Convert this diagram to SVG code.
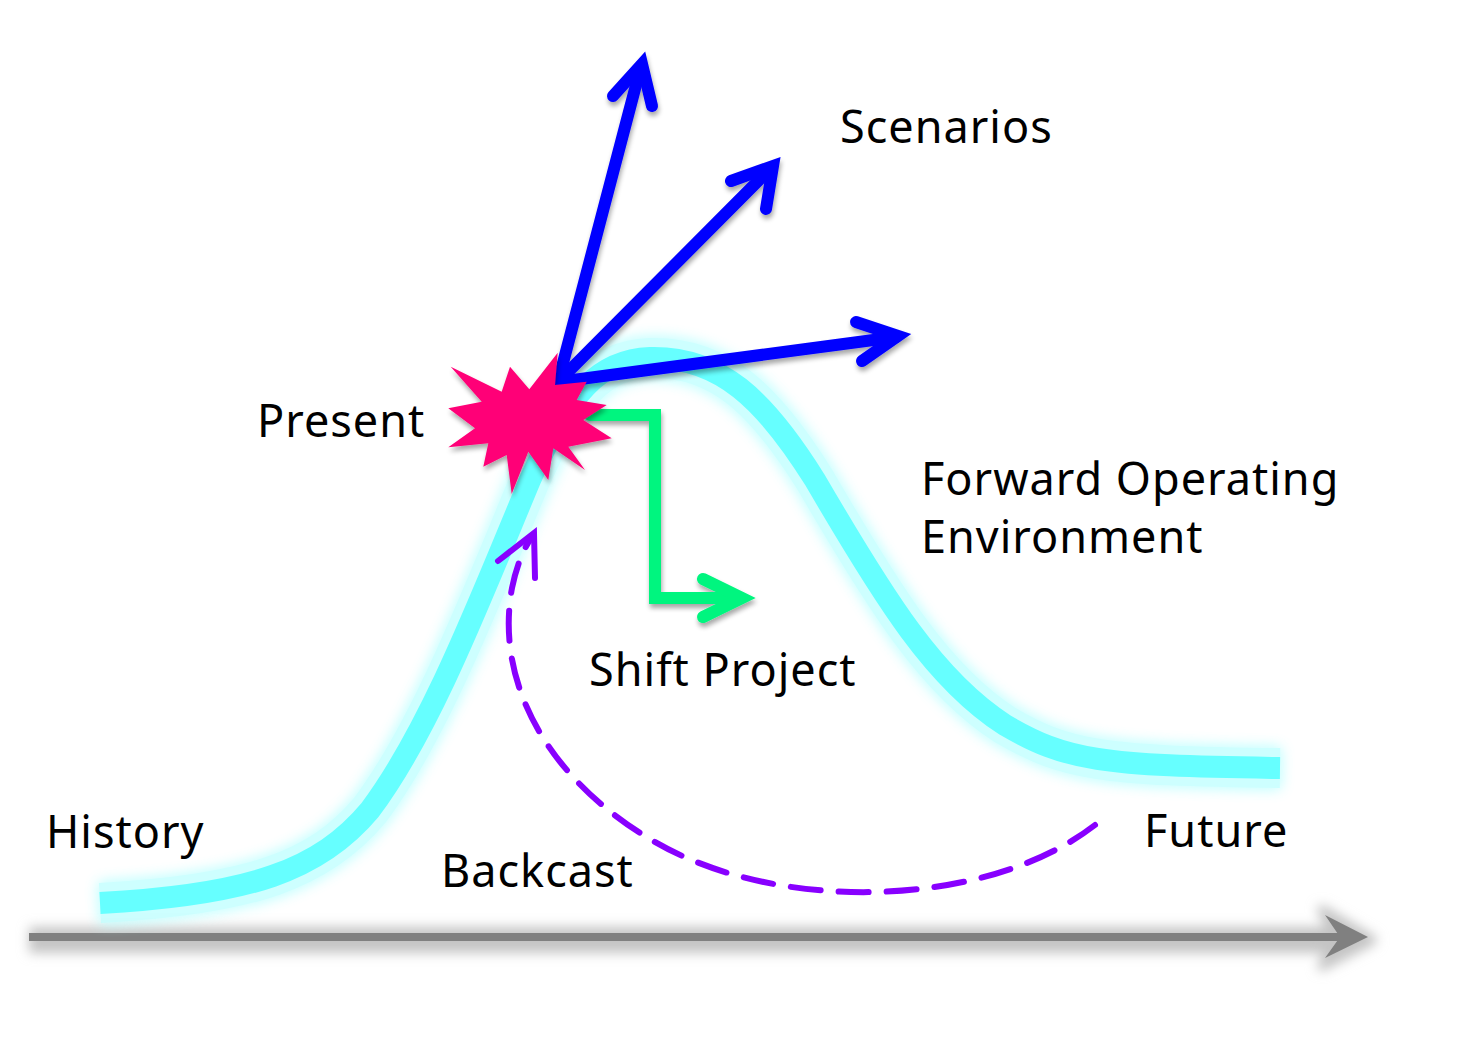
<svg xmlns="http://www.w3.org/2000/svg" width="1474" height="1041" viewBox="0 0 1474 1041">
<style>
.lbl{font-family:"Noto Sans","Lato",sans-serif;font-size:45px;letter-spacing:1px;fill:#000;font-variant-ligatures:none}
.blue{fill:none;stroke:#0000FF;stroke-width:12;stroke-linecap:round;stroke-linejoin:miter;stroke-miterlimit:10}
.green{fill:none;stroke:#00F57F;stroke-width:12;stroke-linecap:round;stroke-linejoin:miter;stroke-miterlimit:10}
.purple{fill:none;stroke:#8800FF;stroke-width:6;stroke-linecap:round}
</style>
<defs>
<filter id="glow" x="-10%" y="-10%" width="120%" height="120%">
<feGaussianBlur in="SourceGraphic" stdDeviation="7" result="b"/>
<feMerge><feMergeNode in="b"/><feMergeNode in="b"/><feMergeNode in="SourceGraphic"/></feMerge>
</filter>
<filter id="shadow" x="-20%" y="-20%" width="140%" height="140%">
<feGaussianBlur in="SourceAlpha" stdDeviation="2.5"/>
<feOffset dx="1" dy="4" result="o"/>
<feComponentTransfer><feFuncA type="linear" slope="0.35"/></feComponentTransfer>
<feMerge><feMergeNode/><feMergeNode in="SourceGraphic"/></feMerge>
</filter>
<filter id="blur6" x="-5%" y="-300%" width="110%" height="700%">
<feGaussianBlur stdDeviation="6"/>
</filter>
</defs>

<g id="axis">
<g filter="url(#blur6)" fill="#c4c4c4" stroke="#c4c4c4">
<line x1="29" y1="940" x2="1345" y2="940" stroke-width="26"/>
<polygon points="1372,940 1322,910 1338,940 1322,966" stroke-width="10" stroke-linejoin="round"/>
</g>
<line x1="29" y1="937" x2="1345" y2="937" stroke="#808080" stroke-width="8"/>
<polygon points="1368,937 1325,915 1340,937 1325,958" fill="#808080"/>
</g>

<g id="curve">
<path d="M100,903 C 250,895 320,870 370,810 C 430,730 480,600 530,480 C 570,390 600,360 650,358 C 720,356 765,400 815,480 C 885,600 935,680 1005,725 C 1065,760 1100,766 1280,768" fill="none" stroke="#B8FFFF" stroke-width="40" opacity="0.7" filter="url(#glow)"/>
<path d="M100,903 C 250,895 320,870 370,810 C 430,730 480,600 530,480 C 570,390 600,360 650,358 C 720,356 765,400 815,480 C 885,600 935,680 1005,725 C 1065,760 1100,766 1280,768" fill="none" stroke="#66FFFF" stroke-width="22"/>
</g>

<g id="connectors">
<g id="backcast-arrow">
<path class="purple" d="M1095,825 C 985,910 770,915 645,836 C 545,774 495,680 512,588 Q 518,558 531,538" stroke-dasharray="30 18"/>
<polyline class="purple" points="498,561 534,533 535,578"/>
</g>
<g id="shift-arrow" filter="url(#shadow)">
<polyline class="green" points="590,415 655,415 655,598 740,598"/>
<polyline class="green" points="703,579 742,598 703,617"/>
</g>
<g id="scenario-arrows" filter="url(#shadow)">
<line class="blue" x1="558" y1="382" x2="641" y2="66"/>
<polyline class="blue" points="613,96 642,64 652,106"/>
<line class="blue" x1="558" y1="382" x2="771" y2="168"/>
<polyline class="blue" points="731,181 773,166 766,209"/>
<line class="blue" x1="558" y1="382" x2="896" y2="337"/>
<polyline class="blue" points="856,322 898,336 862,361"/>
</g>
</g>

<g id="present-star" filter="url(#shadow)">
<polygon fill="#FF0077" points="450.7,366.7 501.7,391.7 510,366.7 529.3,389.3 557.7,352.7 555,385 586.7,381.7 576.7,400 606.7,405 583.3,420 611.7,438.3 568.3,446.7 585,470 553.3,448.3 548.3,480 528.3,451.7 511.7,494 506.7,455 483.3,466.7 488.3,443.3 448.3,447.3 475,428.3 448.3,408.3 481.7,401.7"/>
</g>

<g id="labels">
<text class="lbl" x="840" y="143">Scenarios</text>
<text class="lbl" x="257" y="437">Present</text>
<text class="lbl" x="921" y="495">Forward Operating</text>
<text class="lbl" x="921" y="553">Environment</text>
<text class="lbl" x="589" y="686">Shift Project</text>
<text class="lbl" x="46" y="848">History</text>
<text class="lbl" x="441" y="887">Backcast</text>
<text class="lbl" x="1144" y="847">Future</text>
</g>
</svg>
